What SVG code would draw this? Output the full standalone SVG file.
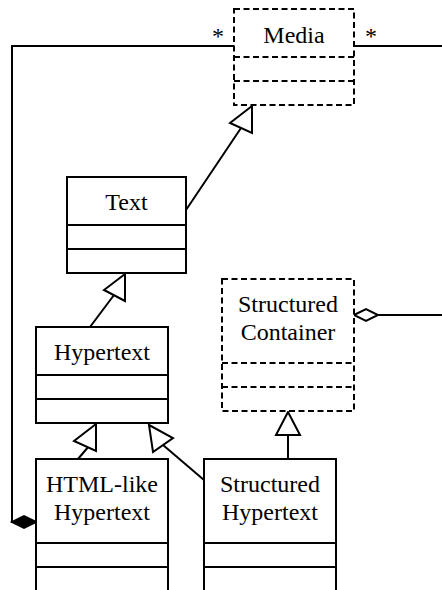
<svg xmlns="http://www.w3.org/2000/svg" width="442" height="590" viewBox="0 0 442 590">
<defs>
<style>
.box{fill:#fff;stroke:#000;stroke-width:2}
.dash{stroke-dasharray:6,3.5}
.sep{stroke:#000;stroke-width:2;fill:none}
.t{font-family:"Liberation Serif","Times New Roman",serif;font-size:24px;text-anchor:middle;fill:#000}
.c{stroke:#000;stroke-width:2;fill:none}
.tri{fill:#fff;stroke:#000;stroke-width:2;stroke-linejoin:miter}
</style>
</defs>
<g id="connectors">
<polyline class="c" points="36,522 12,522 12,46 234,46"/>
<polygon points="36,522 24,516 12,522 24,528" fill="#000" stroke="#000" stroke-width="2"/>
<line class="c" x1="354" y1="46" x2="442" y2="46"/>
<line class="c" x1="378" y1="315" x2="442" y2="315"/>
<polygon class="tri" points="354,315 366,309 378,315 366,321"/>
<line class="c" x1="186" y1="210" x2="241" y2="128"/>
<polygon class="tri" points="252,106 230,123 252,133"/>
<line class="c" x1="90" y1="327" x2="114" y2="295"/>
<polygon class="tri" points="125,274 104,290 125,301"/>
<line class="c" x1="78" y1="459" x2="89" y2="446"/>
<polygon class="tri" points="96,424 74,441 96,451"/>
<line class="c" x1="204" y1="480" x2="163" y2="445"/>
<polygon class="tri" points="149,425 173,438 153,452"/>
<line class="c" x1="288" y1="459" x2="288" y2="435"/>
<polygon class="tri" points="288,412 276,435 300,435"/>
<text class="t" x="218" y="44">*</text>
<text class="t" x="371" y="44">*</text>
</g>
<g id="media">
<rect class="box dash" x="234" y="9" width="120" height="96"/>
<line class="sep dash" x1="234" y1="57" x2="354" y2="57"/>
<line class="sep dash" x1="234" y1="81" x2="354" y2="81"/>
<text class="t" x="294" y="43">Media</text>
</g>
<g id="text">
<rect class="box" x="67" y="177" width="119" height="96"/>
<line class="sep" x1="67" y1="225" x2="186" y2="225"/>
<line class="sep" x1="67" y1="249" x2="186" y2="249"/>
<text class="t" x="126.5" y="210">Text</text>
</g>
<g id="hypertext">
<rect class="box" x="36" y="327" width="132" height="96"/>
<line class="sep" x1="36" y1="375" x2="168" y2="375"/>
<line class="sep" x1="36" y1="399" x2="168" y2="399"/>
<text class="t" x="102" y="360">Hypertext</text>
</g>
<g id="structured-container">
<rect class="box dash" x="222" y="279" width="132" height="132"/>
<line class="sep dash" x1="222" y1="363" x2="354" y2="363"/>
<line class="sep dash" x1="222" y1="387" x2="354" y2="387"/>
<text class="t" x="288" y="312">Structured</text>
<text class="t" x="288" y="340">Container</text>
</g>
<g id="html-like-hypertext">
<rect class="box" x="36" y="459" width="132" height="150"/>
<line class="sep" x1="36" y1="543" x2="168" y2="543"/>
<line class="sep" x1="36" y1="567" x2="168" y2="567"/>
<text class="t" x="102" y="492">HTML-like</text>
<text class="t" x="102" y="520">Hypertext</text>
</g>
<g id="structured-hypertext">
<rect class="box" x="204" y="459" width="132" height="150"/>
<line class="sep" x1="204" y1="543" x2="336" y2="543"/>
<line class="sep" x1="204" y1="567" x2="336" y2="567"/>
<text class="t" x="270" y="492">Structured</text>
<text class="t" x="270" y="520">Hypertext</text>
</g>
</svg>
